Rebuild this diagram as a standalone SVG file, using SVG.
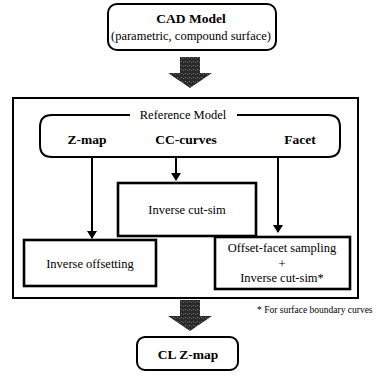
<svg xmlns="http://www.w3.org/2000/svg" width="381" height="376" viewBox="0 0 381 376">
<defs>
<marker id="ah" markerWidth="8" markerHeight="10" refX="7" refY="5" orient="auto" markerUnits="userSpaceOnUse">
<path d="M0,0 L8,5 L0,10 Z" fill="#000"/>
</marker>
<pattern id="stip" width="4" height="4" patternUnits="userSpaceOnUse">
<rect width="4" height="4" fill="#2a2a2a"/>
<rect x="1" y="1" width="1" height="1" fill="#777"/>
<rect x="3" y="2" width="1" height="1" fill="#666"/>
</pattern>
</defs>
<style>
.box{fill:#fff;stroke:#000;stroke-width:2}
.ibox{fill:#fff;stroke:#000;stroke-width:2.6}
.t{font-family:"Liberation Serif",serif;font-size:12.5px;fill:#000;text-anchor:middle}
.b{font-weight:bold;font-size:13.5px}
.fn{font-family:"Liberation Serif",serif;font-size:9.5px;fill:#000}
.ln{stroke:#000;stroke-width:2;fill:none}
.big{fill:url(#stip)}
</style>
<rect width="381" height="376" fill="#fff"/>
<g id="cad">
<rect class="box" x="108" y="4" width="168" height="46" rx="9"/>
<text class="t b" x="191" y="23">CAD Model</text>
<text class="t" x="191" y="40">(parametric, compound surface)</text>
</g>
<g id="arrow1">
<path class="big" d="M180,57 L200,57 L200,73 L212,73 L190,88 L168,73 L180,73 Z"/>
</g>
<g id="frame">
<rect class="box" x="13" y="98" width="345" height="200" fill="none"/>
</g>
<g id="refmodel">
<path class="ln" d="M130,115 L52,115 Q40,115 40,127 L40,145 Q40,157 52,157 L328,157 Q340,157 340,145 L340,127 Q340,115 328,115 L237,115"/>
<text class="t" x="183" y="119">Reference Model</text>
<text class="t b" x="87" y="144">Z-map</text>
<text class="t b" x="186" y="144">CC-curves</text>
<text class="t b" x="300" y="144">Facet</text>
</g>
<g id="connectors">
<line class="ln" x1="92" y1="157" x2="92" y2="238" marker-end="url(#ah)"/>
<line class="ln" x1="176" y1="157" x2="176" y2="180" marker-end="url(#ah)"/>
<line class="ln" x1="278" y1="157" x2="278" y2="232" marker-end="url(#ah)"/>
</g>
<g id="cutsim">
<rect class="ibox" x="118" y="183" width="138" height="53"/>
<text class="t" x="187" y="214">Inverse cut-sim</text>
</g>
<g id="offsetting">
<rect class="ibox" x="24" y="240" width="132" height="46"/>
<text class="t" x="90" y="268">Inverse offsetting</text>
</g>
<g id="facetsampling">
<rect class="ibox" x="215" y="237" width="135" height="52"/>
<text class="t" x="282" y="252">Offset-facet sampling</text>
<text class="t" x="282" y="268" font-size="8">+</text>
<text class="t" x="282" y="282">Inverse cut-sim*</text>
</g>
<text class="fn" x="257" y="313">* For surface boundary curves</text>
<g id="arrow2">
<path class="big" d="M180,300 L200,300 L200,316 L212,316 L190,331 L168,316 L180,316 Z"/>
</g>
<g id="clzmap">
<rect class="box" x="137" y="337" width="101" height="33" rx="8"/>
<text class="t b" x="188" y="359">CL Z-map</text>
</g>
</svg>
